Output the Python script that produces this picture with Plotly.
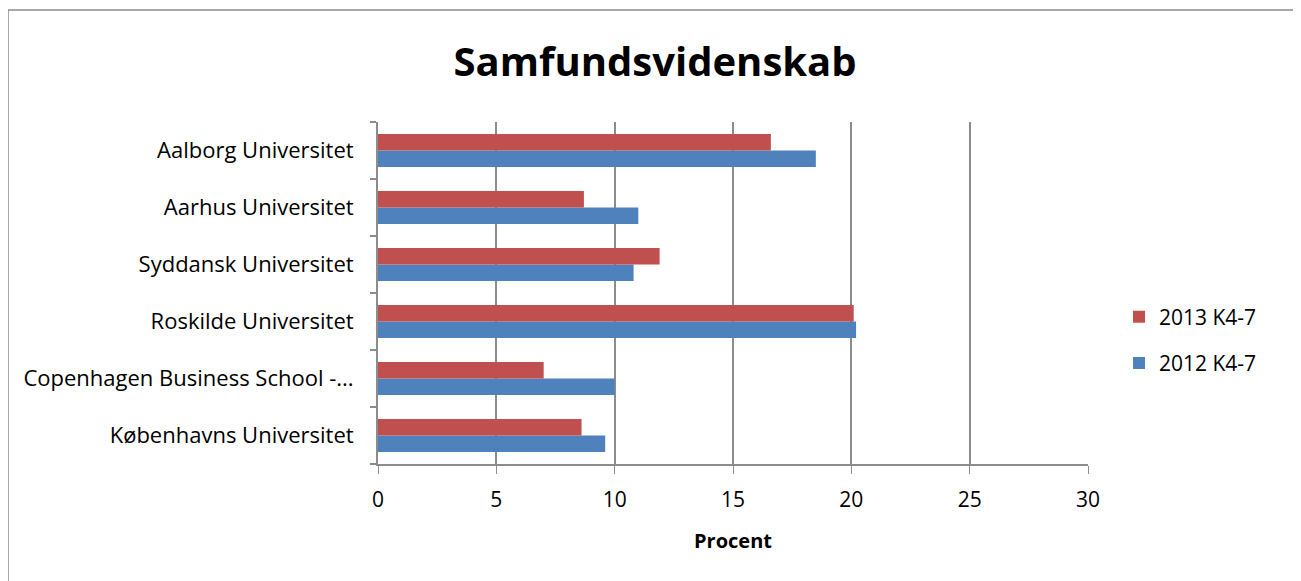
import plotly.graph_objects as go

categories = ["Københavns Universitet", "Copenhagen Business School -...", "Roskilde Universitet",
              "Syddansk Universitet", "Aarhus Universitet", "Aalborg Universitet"]
v2012 = [9.6, 10.0, 20.2, 10.8, 11.0, 18.5]
v2013 = [8.6, 7.0, 20.1, 11.9, 8.7, 16.6]
x_ticks = [0, 5, 10, 15, 20, 25, 30]

FONT = "Open Sans"
fig = go.Figure()
fig.add_trace(go.Bar(y=categories, x=v2012, orientation="h", name="2012 K4-7",
                     marker=dict(color="#4F81BD", line=dict(width=0)), legendgroup="a", legendrank=2))
fig.add_trace(go.Bar(y=categories, x=v2013, orientation="h", name="2013 K4-7",
                     marker=dict(color="#C0504D", line=dict(width=0)), legendgroup="b", legendrank=1))

OFF = 8  # page body margin
L, R, T, B = 378 - OFF, 1088 - OFF, 122 - OFF, 464 - OFF
W, H = 1301, 581
pw, ph = R - L, B - T

fig.update_layout(
    width=W, height=H,
    margin=dict(l=L, r=W - R, t=T, b=H - B, autoexpand=False),
    paper_bgcolor="white", plot_bgcolor="white",
    barmode="group", bargap=0.42, bargroupgap=0,
    title=dict(text="<b>Samfundsvidenskab</b>", x=(655 - OFF) / W, xanchor="center",
               y=1 - (62 - OFF) / H, yanchor="middle",
               font=dict(family=FONT, size=40, color="black")),
    font=dict(family=FONT, size=20, color="black"),
    xaxis=dict(range=[0, 30], tickvals=x_ticks, showgrid=True, gridcolor="#8C8C8C", gridwidth=2,
               showline=True, linecolor="#8C8C8C", linewidth=2, ticks="outside", ticklen=8,
               tickcolor="#8C8C8C", tickwidth=1, zeroline=False, ticklabelstandoff=8,
               title=dict(text="<b>Procent</b>", font=dict(family=FONT, size=20), standoff=22),
               tickfont=dict(family=FONT, size=21)),
    yaxis=dict(type="category", showline=True, linecolor="#8C8C8C", linewidth=2,
               ticks="outside", tickson="boundaries", ticklen=6, tickcolor="#8C8C8C", tickwidth=2,
               showgrid=False, tickfont=dict(family=FONT, size=22), ticklabelstandoff=18),
    legend=dict(x=(1119 - OFF - L) / pw, y=(B - (340 - OFF)) / ph, xanchor="left", yanchor="middle",
                traceorder="grouped", tracegroupgap=16,
                font=dict(family=FONT, size=21), bgcolor="rgba(0,0,0,0)"),
    showlegend=True,
)

fig.add_shape(type="rect", xref="paper", yref="paper",
              x0=(8 - OFF - L) / pw, x1=(1320 - L) / pw, y0=(B - 600) / ph, y1=(B - (10 - OFF)) / ph,
              line=dict(color="#8C8C8C", width=1.5), fillcolor="rgba(0,0,0,0)", layer="below")

fig.write_html("out.html")
